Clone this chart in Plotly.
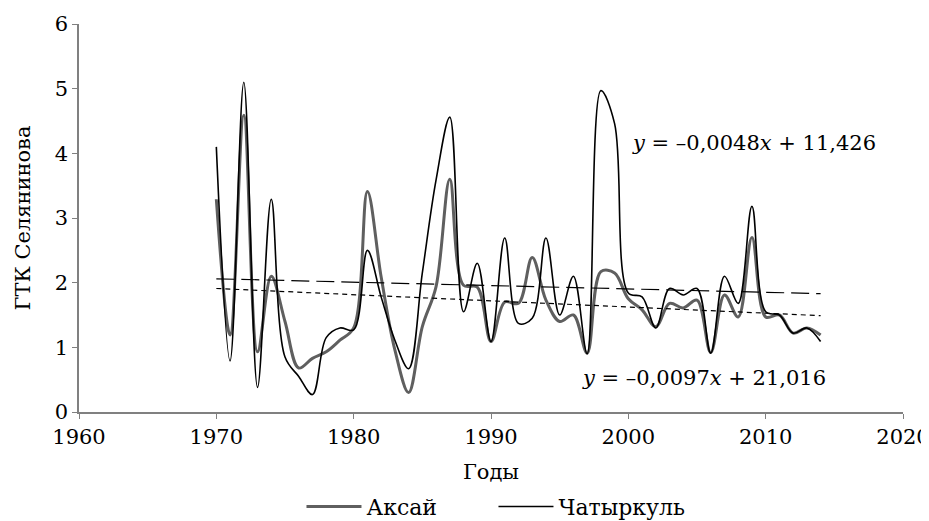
import plotly.graph_objects as go

years = list(range(1970, 2015))

aksai = [3.29, 1.19, 4.59, 0.93, 2.10, 1.40, 0.68, 0.83, 0.93, 1.11,
         1.30, 3.41, 2.09, 0.96, 0.30, 1.32, 1.94, 3.60, 1.96, 1.93,
         1.09, 1.70, 1.68, 2.39, 1.73, 1.40, 1.50, 0.91, 2.17, 2.15,
         1.75, 1.58, 1.32, 1.68, 1.61, 1.73, 0.92, 1.81, 1.47, 2.70,
         1.47, 1.50, 1.22, 1.30, 1.19]

chatyrkul = [4.10, 0.79, 5.10, 0.38, 3.29, 0.85, 0.55, 0.27, 1.15, 1.30,
             1.27, 2.50, 1.78, 1.11, 0.67, 2.15, 3.59, 4.56, 1.55, 2.30,
             1.09, 2.69, 1.37, 1.45, 2.69, 1.50, 2.10, 0.90, 4.97, 4.46,
             1.84, 1.78, 1.30, 1.91, 1.81, 1.91, 0.91, 2.10, 1.68, 3.18,
             1.55, 1.50, 1.22, 1.30, 1.09]

trend_years = [1970, 2014]
trend_chatyrkul = [2.06, 1.83]
trend_aksai = [1.91, 1.49]

x_ticks = [1960, 1970, 1980, 1990, 2000, 2010, 2020]
y_ticks = [0, 1, 2, 3, 4, 5, 6]

FONT = "DejaVu Serif"
FS = 21

fig = go.Figure()
fig.add_trace(go.Scatter(x=years, y=aksai, mode="lines", name="Аксай",
                         line=dict(color="#5f5f5f", width=3, shape="spline", smoothing=1.0)))
fig.add_trace(go.Scatter(x=years, y=chatyrkul, mode="lines", name="Чатыркуль",
                         line=dict(color="#000000", width=1.6, shape="spline", smoothing=1.0)))
fig.add_trace(go.Scatter(x=trend_years, y=trend_chatyrkul, mode="lines", showlegend=False,
                         line=dict(color="#000000", width=1.2, dash="18px,7px")))
fig.add_trace(go.Scatter(x=trend_years, y=trend_aksai, mode="lines", showlegend=False,
                         line=dict(color="#000000", width=1.2, dash="5px,4px")))

fig.add_annotation(x=2000.1, y=4.16, xref="x", yref="y", xanchor="left", yanchor="middle",
                   text="<i>y</i> = –0,0048<i>x</i> + 11,426", showarrow=False,
                   font=dict(family=FONT, size=FS, color="#000"))
fig.add_annotation(x=1996.5, y=0.53, xref="x", yref="y", xanchor="left", yanchor="middle",
                   text="<i>y</i> = –0,0097<i>x</i> + 21,016", showarrow=False,
                   font=dict(family=FONT, size=FS, color="#000"))

fig.update_layout(
    width=921, height=513,
    margin=dict(l=71, r=26, t=16, b=109, autoexpand=False),
    paper_bgcolor="white", plot_bgcolor="white",
    font=dict(family=FONT, size=FS, color="#000"),
    showlegend=True,
    legend=dict(orientation="h", x=0.27, xanchor="left", y=-0.19, yanchor="top",
                font=dict(family=FONT, size=22), itemwidth=55,
                entrywidth=122, entrywidthmode="pixels",
                tracegroupgap=0),
    xaxis=dict(range=[1960, 2020], tickvals=x_ticks, showgrid=False, zeroline=False,
               showline=True, linecolor="#808080", linewidth=1.5, automargin=False,
               ticks="outside", ticklen=5, tickcolor="#808080",
               ticklabeloverflow="allow",
               title=dict(text="Годы", font=dict(family=FONT, size=FS), standoff=16),
               tickfont=dict(family=FONT, size=FS)),
    yaxis=dict(range=[0, 6], tickvals=y_ticks, showgrid=False, zeroline=False,
               showline=True, linecolor="#808080", linewidth=1.5, automargin=False,
               ticks="outside", ticklen=5, tickcolor="#808080",
               title=dict(text="ГТК Селянинова", font=dict(family=FONT, size=FS), standoff=18),
               tickfont=dict(family=FONT, size=FS)),
)

fig.write_html("out.html")
